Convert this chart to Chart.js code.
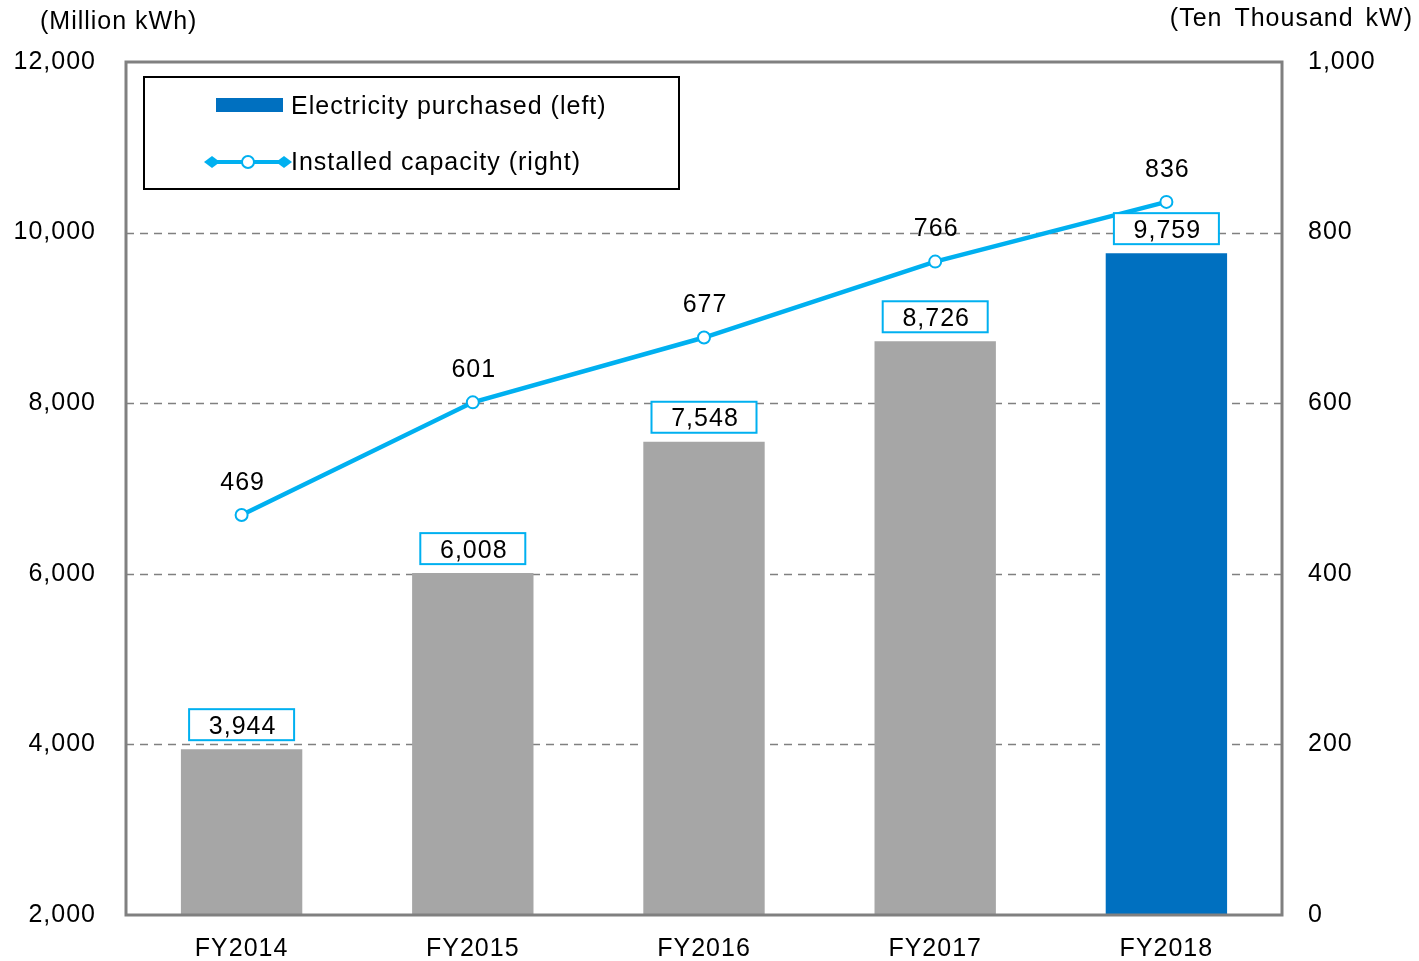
<!DOCTYPE html>
<html>
<head>
<meta charset="utf-8">
<script src="https://cdn.jsdelivr.net/npm/chart.js@4/dist/chart.umd.min.js"></script>
<style>
html,body{margin:0;padding:0;background:#fff;}
#wrap{width:1419px;height:961px;position:relative;}
</style>
</head>
<body>
<div id="wrap"><canvas id="c" width="1419" height="961"></canvas></div>
<script>
const categories = ['FY2014','FY2015','FY2016','FY2017','FY2018'];
const purchased = [3944, 6008, 7548, 8726, 9759];
const capacity = [469, 601, 677, 766, 836];
const leftTicks = [2000, 4000, 6000, 8000, 10000, 12000];
const rightTicks = [0, 200, 400, 600, 800, 1000];
const seriesNames = ['Electricity purchased (left)', 'Installed capacity (right)'];
const axisTitles = ['(Million kWh)', '(Ten Thousand kW)'];

const FONT = '"Liberation Sans", Arial, sans-serif';
const FS = 25;
const LS = '1px';
const GRAY = '#A6A6A6', BLUE = '#0070C0', CYAN = '#00B0F0', AXIS = '#808080';
const fmt = v => v.toLocaleString('en-US');

const overlay = {
  id: 'overlay',
  beforeDraw(chart) {
    chart.ctx.letterSpacing = LS;
  },
  beforeDatasetsDraw(chart) {
    const ctx = chart.ctx, a = chart.chartArea, y = chart.scales.y;
    ctx.save();
    ctx.strokeStyle = AXIS; ctx.lineWidth = 1.5; ctx.setLineDash([8, 6]);
    leftTicks.forEach(t => {
      if (t === leftTicks[0] || t === leftTicks[leftTicks.length-1]) return;
      const py = Math.round(y.getPixelForValue(t)) + 0.5;
      ctx.beginPath(); ctx.moveTo(a.left, py); ctx.lineTo(a.right, py); ctx.stroke();
    });
    ctx.restore();
  },
  afterDatasetsDraw(chart) {
    const ctx = chart.ctx, a = chart.chartArea;
    ctx.save();
    ctx.letterSpacing = LS;
    // plot border
    ctx.strokeStyle = AXIS; ctx.lineWidth = 3; ctx.setLineDash([]);
    ctx.strokeRect(a.left, a.top, a.right - a.left, a.bottom - a.top);
    // bar labels with boxes
    ctx.font = FS + 'px ' + FONT; ctx.textAlign = 'center'; ctx.textBaseline = 'middle';
    const barMeta = chart.getDatasetMeta(0);
    barMeta.data.forEach((el, i) => {
      const txt = fmt(purchased[i]);
      const w = 105, h = 31;
      const cx = el.x, by = el.y - 9;
      ctx.fillStyle = '#fff';
      ctx.fillRect(cx - w/2, by - h, w, h);
      ctx.strokeStyle = CYAN; ctx.lineWidth = 2;
      ctx.strokeRect(cx - w/2, by - h, w, h);
      ctx.fillStyle = '#000';
      ctx.fillText(txt, cx + 1, by - h/2 + 2);
    });
    // line labels
    const lineMeta = chart.getDatasetMeta(1);
    lineMeta.data.forEach((el, i) => {
      ctx.fillStyle = '#000';
      ctx.fillText(fmt(capacity[i]), el.x + 1, el.y - 32);
    });
    // axis titles
    ctx.textAlign = 'left';
    ctx.fillText(axisTitles[0], 40, 22);
    ctx.textAlign = 'right';
    ctx.wordSpacing = '4px';
    ctx.fillText(axisTitles[1], 1413, 19);
    ctx.wordSpacing = '0px';
    // legend
    ctx.strokeStyle = '#000'; ctx.lineWidth = 2;
    ctx.strokeRect(144, 77, 535, 112);
    ctx.fillStyle = BLUE;
    ctx.fillRect(216, 98, 67, 14);
    ctx.strokeStyle = CYAN; ctx.lineWidth = 4;
    ctx.beginPath(); ctx.moveTo(208, 162); ctx.lineTo(286, 162); ctx.stroke();
    ctx.fillStyle = CYAN;
    [[212,162],[284,162]].forEach(([dx,dy]) => {
      ctx.beginPath(); ctx.moveTo(dx-8,dy); ctx.lineTo(dx,dy-6); ctx.lineTo(dx+8,dy); ctx.lineTo(dx,dy+6); ctx.closePath(); ctx.fill();
    });
    ctx.beginPath(); ctx.arc(248, 162, 6, 0, Math.PI*2);
    ctx.fillStyle = '#fff'; ctx.fill(); ctx.lineWidth = 2; ctx.strokeStyle = CYAN; ctx.stroke();
    ctx.fillStyle = '#000'; ctx.textAlign = 'left';
    ctx.fillText(seriesNames[0], 291, 107);
    ctx.fillText(seriesNames[1], 291, 163);
    ctx.restore();
  }
};

new Chart(document.getElementById('c'), {
  data: {
    labels: categories,
    datasets: [
      {
        type: 'bar', label: seriesNames[0], data: purchased, yAxisID: 'y',
        backgroundColor: purchased.map((v, i) => i === purchased.length - 1 ? BLUE : GRAY),
        barPercentage: 0.525, categoryPercentage: 1, order: 2
      },
      {
        type: 'line', label: seriesNames[1], data: capacity, yAxisID: 'y1',
        borderColor: CYAN, borderWidth: 4.5, pointRadius: 6, pointBorderWidth: 2,
        pointBackgroundColor: '#fff', pointBorderColor: CYAN, tension: 0, order: 1
      }
    ]
  },
  options: {
    responsive: false, animation: false,
    layout: { padding: { top: 62, left: 0, right: 0, bottom: 0 } },
    plugins: { legend: { display: false }, tooltip: { enabled: false } },
    scales: {
      x: {
        grid: { display: false, drawTicks: false }, border: { display: false },
        ticks: { color: '#000', font: { family: FONT, size: FS }, padding: 19 },
        afterFit(s) { s.height = 46; }
      },
      y: {
        position: 'left', min: 2000, max: 12000,
        afterBuildTicks(s) { s.ticks = leftTicks.map(v => ({ value: v })); },
        grid: { display: false, drawTicks: false }, border: { display: false },
        ticks: { color: '#000', font: { family: FONT, size: FS }, padding: 30, callback: v => fmt(v) },
        afterFit(s) { s.width = 126; }
      },
      y1: {
        position: 'right', min: 0, max: 1000,
        afterBuildTicks(s) { s.ticks = rightTicks.map(v => ({ value: v })); },
        grid: { display: false, drawTicks: false }, border: { display: false },
        ticks: { color: '#000', font: { family: FONT, size: FS }, padding: 26, callback: v => fmt(v) },
        afterFit(s) { s.width = 137; }
      }
    }
  },
  plugins: [overlay]
});
</script>
</body>
</html>
